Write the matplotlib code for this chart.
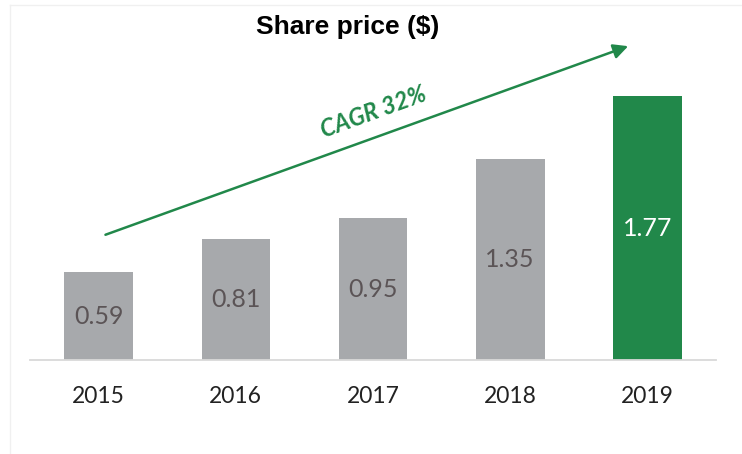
import numpy as np
import matplotlib.pyplot as plt
from matplotlib.lines import Line2D

years = ["2015", "2016", "2017", "2018", "2019"]
prices = [0.59, 0.81, 0.95, 1.35, 1.77]
bar_colors = ["#a7a9ac", "#a7a9ac", "#a7a9ac", "#a7a9ac", "#21884a"]
label_colors = ["#5b5456", "#5b5456", "#5b5456", "#5b5456", "white"]
cagr_text = "CAGR 32%"

green = "#21884a"

fig = plt.figure(figsize=(7.42, 4.54), dpi=100)
ax = fig.add_axes([30 / 742, 94 / 454, 686 / 742, 328 / 454])

x = np.arange(len(years))
bars = ax.bar(x, prices, width=0.5, color=bar_colors, zorder=2)

for xi, v, c in zip(x, prices, label_colors):
    ax.text(xi, v / 2, f"{v:.2f}", ha="center", va="center",
            fontsize=18, color=c, family="Lato")

ax.set_xlim(-0.5, 4.5)
ax.set_ylim(0, 2.2)
ax.set_xticks(x)
ax.set_xticklabels(years, fontsize=16.5, color="#222222", family="Lato")
ax.tick_params(axis="x", length=0, pad=19)
ax.set_yticks([])
for s in ["top", "right", "left"]:
    ax.spines[s].set_visible(False)
ax.spines["bottom"].set_color("#d9d9d9")
ax.spines["bottom"].set_linewidth(1.3)

# growth arrow
ax.annotate("", xy=(3.86, 2.105), xytext=(0.05, 0.84),
            arrowprops=dict(arrowstyle="-|>", color=green, lw=1.8,
                            mutation_scale=22, shrinkA=0, shrinkB=0))
ax.text(2.0, 1.66, cagr_text, rotation=20, ha="center", va="center",
        fontsize=17, fontweight="bold", fontstyle="italic", color=green,
        family="Lato", rotation_mode="anchor")

fig.text(348 / 742, 1 - 27 / 454, "Share price ($)", ha="center", va="center",
         fontsize=19, fontweight="bold", family="Liberation Sans")

# faint frame at top-left
fig.add_artist(Line2D([10 / 742, 10 / 742], [0, 1 - 5 / 454],
                      transform=fig.transFigure, color="#f0f0f0", lw=1))
fig.add_artist(Line2D([10 / 742, 1], [1 - 5 / 454, 1 - 5 / 454],
                      transform=fig.transFigure, color="#f0f0f0", lw=1))

fig.savefig("out.png", dpi=100)
